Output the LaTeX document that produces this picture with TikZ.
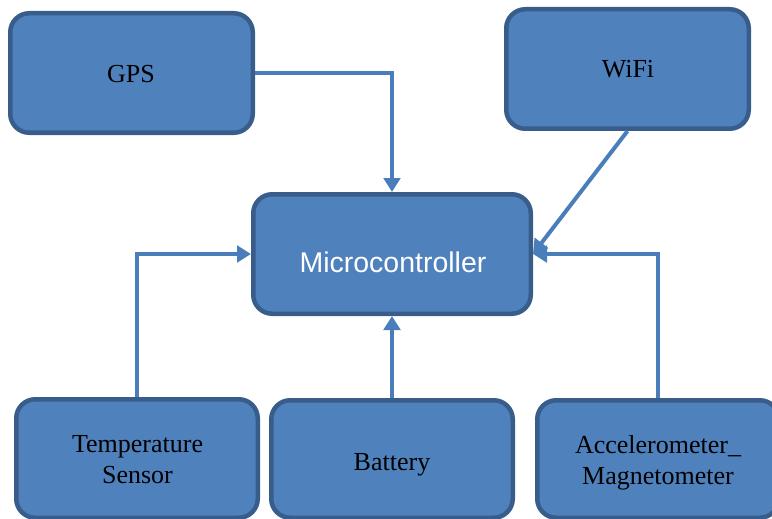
\documentclass[tikz,border=0pt]{standalone}
\usepackage{fontspec}
\setmainfont{Liberation Serif}
\newfontfamily\arialfont{Liberation Sans}
\usetikzlibrary{arrows.meta}
\definecolor{boxfill}{HTML}{4F81BD}
\definecolor{boxline}{HTML}{385D8A}
\definecolor{conncol}{HTML}{4A7EBB}
\begin{document}
\begin{tikzpicture}[x=1pt,y=-1pt,
  blk/.style={draw=boxline, fill=boxfill, line width=4.5pt, rounded corners=19pt,
    minimum width=242pt, minimum height=119.5pt, inner sep=0pt},
  lbl/.style={font=\fontsize{26}{31.3}\selectfont, text=black, inner sep=0pt, align=center},
  conn/.style={draw=conncol, line width=4pt, -{Triangle[width=16.5pt,length=14pt]}}]
\useasboundingbox (0,0) rectangle (772,519);
\node[blk, minimum width=242.5pt] (gps) at (131.5,73) {};
\node[blk, minimum width=242.5pt] (wifi) at (627.5,69) {};
\node[blk, minimum width=277.5pt] (micro) at (392,254) {};
\node[blk, minimum width=241.5pt, minimum height=118.5pt] (temp) at (137,458.5) {};
\node[blk, minimum width=241.5pt, minimum height=117.5pt] (batt) at (392,459) {};
\node[blk, minimum width=241.5pt, minimum height=117.5pt] (accel) at (658,459) {};
\node[lbl, anchor=base] (gpst) at (131,83) {GPS};
\node[lbl, anchor=base] (wifit) at (628,78) {WiFi};
\node[lbl, anchor=base, text=white, font=\arialfont\fontsize{28.5}{34}\selectfont] (microt) at (393,272) {Microcontroller};
\node[lbl] (tempt) at (137.5,459.9) {Temperature\\Sensor};
\node[lbl, anchor=base] (battt) at (392,470) {Battery};
\node[lbl] (accelt) at (658,462.8) {Accelerometer\_\\Magnetometer};
\draw[conn] (gps.east) -| (micro.north);
\draw[conn] (wifi.south) -- (micro.east);
\draw[conn] (temp.north) |- (micro.west);
\draw[conn] (batt.north) -- (micro.south);
\draw[conn] (accel.north) |- (micro.east);
\end{tikzpicture}
\end{document}
